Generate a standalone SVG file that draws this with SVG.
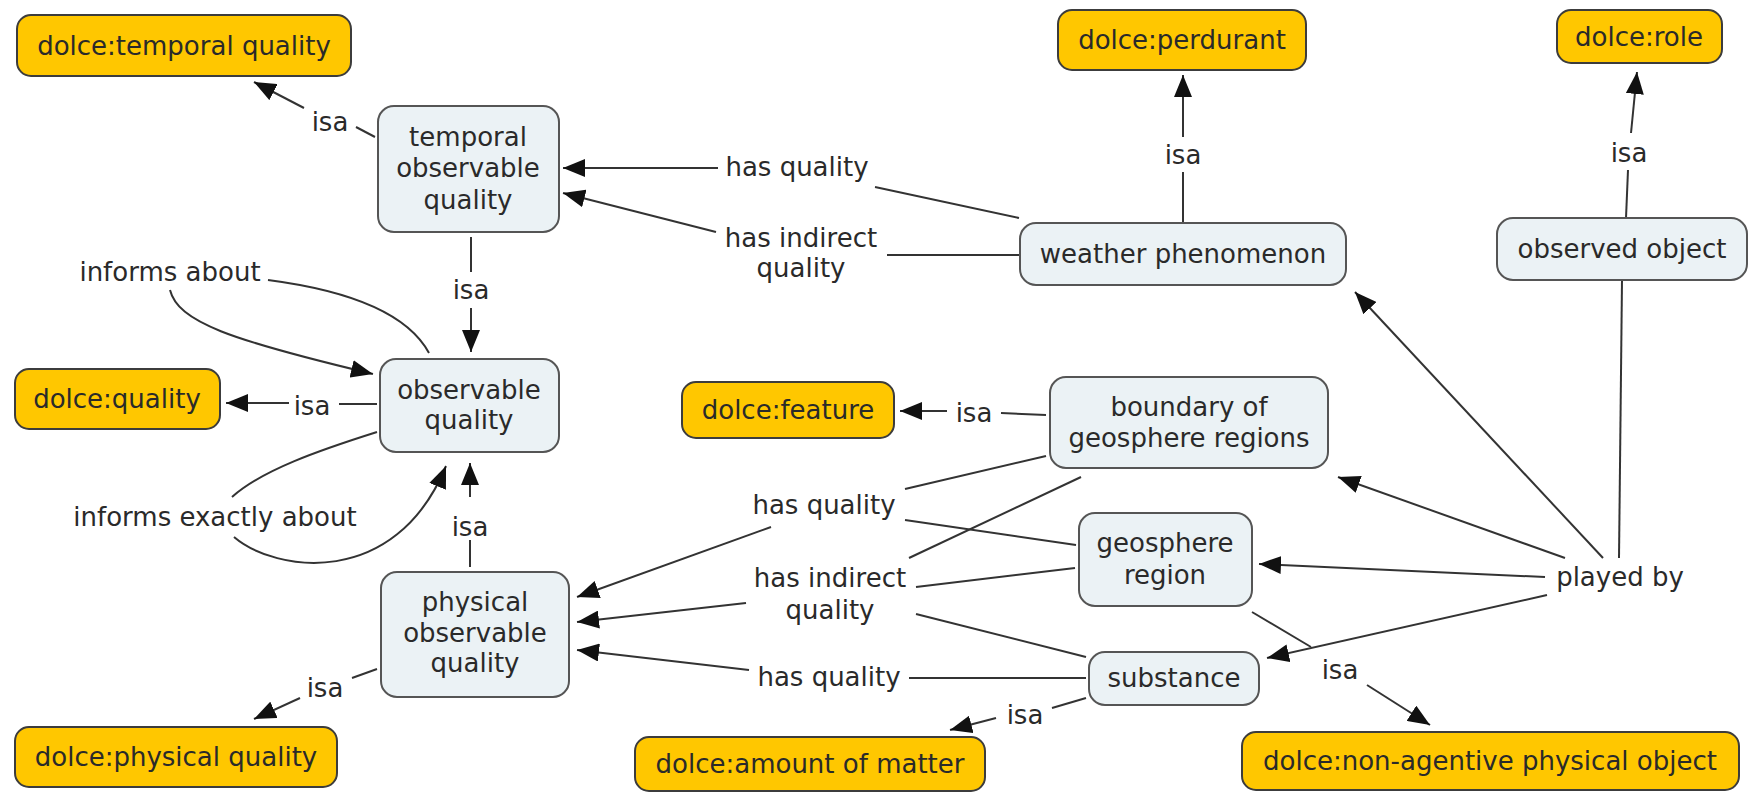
<svg xmlns="http://www.w3.org/2000/svg" width="1752" height="793" viewBox="0 0 1752 793">
<defs>
<style>
text{font-family:"DejaVu Sans",Verdana,sans-serif;font-size:26px;fill:#2a2a2a;text-anchor:middle}
.y{fill:#FFC700;stroke:#3c3c3c;stroke-width:2}
.b{fill:#EBF2F5;stroke:#555;stroke-width:2}
.c{fill:none;stroke:#333;stroke-width:2}
.a{fill:none;stroke:#333;stroke-width:2;marker-end:url(#ah)}
</style>
<marker id="ah" viewBox="0 0 22 18" refX="22" refY="9" markerWidth="22" markerHeight="18" markerUnits="userSpaceOnUse" orient="auto">
<path d="M0,0 L22,9 L0,18 z" fill="#111"/>
</marker>
</defs>
<rect width="1752" height="793" fill="#fff"/>

<g id="connectors">
<path class="c" d="M375 137 L356 127"/>
<path class="a" d="M304 108 L254 82"/>
<path class="c" d="M429 353 C 410 318, 360 292, 268 280"/>
<path class="a" d="M170 290 C 178 322, 230 340, 373 374"/>
<path class="c" d="M471 237 L471 272"/>
<path class="a" d="M471 308 L471 352"/>
<path class="c" d="M1019 218 L875 187"/>
<path class="a" d="M718 168 L563 168"/>
<path class="c" d="M1019 255 L887 255"/>
<path class="a" d="M716 232 L563 193"/>
<path class="c" d="M1183 222 L1183 172"/>
<path class="a" d="M1183 137 L1183 75"/>
<path class="c" d="M1626 218 L1628 170"/>
<path class="a" d="M1631 133 L1637 72"/>
<path class="c" d="M377 404 L339 404"/>
<path class="a" d="M289 403 L226 403"/>
<path class="c" d="M377 432 C 320 450, 262 470, 232 497"/>
<path class="a" d="M234 537 C 275 572, 395 590, 446 466"/>
<path class="c" d="M470 567 L470 540"/>
<path class="a" d="M470 497 L470 463"/>
<path class="c" d="M377 669 L352 678"/>
<path class="a" d="M300 698 L254 719"/>
<path class="c" d="M1046 415 L1001 413"/>
<path class="a" d="M947 411 L900 411"/>
<path class="c" d="M1046 456 L905 489"/>
<path class="c" d="M1076 545 L905 520"/>
<path class="a" d="M771 527 L577 597"/>
<path class="c" d="M1081 477 L909 558"/>
<path class="c" d="M1075 568 L916 587"/>
<path class="c" d="M1086 657 L916 614"/>
<path class="a" d="M746 603 L577 622"/>
<path class="c" d="M1086 678 L909 678"/>
<path class="a" d="M749 670 L577 650"/>
<path class="c" d="M1086 698 L1052 708"/>
<path class="a" d="M996 718 L950 730"/>
<path class="c" d="M1622 280 L1619 558"/>
<path class="a" d="M1603 558 L1355 292"/>
<path class="a" d="M1565 558 L1338 477"/>
<path class="a" d="M1545 577 L1259 564"/>
<path class="a" d="M1547 595 L1267 658"/>
<path class="c" d="M1252 612 L1311 647"/>
<path class="a" d="M1367 685 L1430 725"/>
</g>

<g id="labels">
<text x="330" y="131">isa</text>
<text x="170" y="281">informs about</text>
<text x="471" y="299">isa</text>
<text x="797" y="176">has quality</text>
<text x="801" y="247">has indirect</text>
<text x="801" y="277">quality</text>
<text x="1183" y="164">isa</text>
<text x="1629" y="162">isa</text>
<text x="312" y="415">isa</text>
<text x="215" y="526">informs exactly about</text>
<text x="470" y="536">isa</text>
<text x="325" y="697">isa</text>
<text x="974" y="422">isa</text>
<text x="824" y="514">has quality</text>
<text x="830" y="587">has indirect</text>
<text x="830" y="619">quality</text>
<text x="829" y="686">has quality</text>
<text x="1025" y="724">isa</text>
<text x="1620" y="586">played by</text>
<text x="1340" y="679">isa</text>
</g>

<g id="n-dolce-temporal-quality"><rect class="y" x="17" y="15" width="334" height="61" rx="14"/><text x="184" y="55">dolce:temporal quality</text></g>
<g id="n-dolce-perdurant"><rect class="y" x="1058" y="10" width="248" height="60" rx="14"/><text x="1182" y="49">dolce:perdurant</text></g>
<g id="n-dolce-role"><rect class="y" x="1557" y="10" width="165" height="53" rx="14"/><text x="1639" y="46">dolce:role</text></g>
<g id="n-dolce-quality"><rect class="y" x="15" y="369" width="205" height="60" rx="14"/><text x="117" y="408">dolce:quality</text></g>
<g id="n-dolce-feature"><rect class="y" x="682" y="382" width="212" height="56" rx="14"/><text x="788" y="419">dolce:feature</text></g>
<g id="n-dolce-physical-quality"><rect class="y" x="15" y="727" width="322" height="60" rx="14"/><text x="176" y="766">dolce:physical quality</text></g>
<g id="n-dolce-amount-of-matter"><rect class="y" x="635" y="737" width="350" height="54" rx="14"/><text x="810" y="773">dolce:amount of matter</text></g>
<g id="n-dolce-non-agentive"><rect class="y" x="1242" y="732" width="497" height="58" rx="14"/><text x="1490" y="770">dolce:non-agentive physical object</text></g>

<g id="n-temporal-observable-quality"><rect class="b" x="378" y="106" width="181" height="126" rx="16"/><text x="468" y="146">temporal</text><text x="468" y="177">observable</text><text x="468" y="209">quality</text></g>
<g id="n-observable-quality"><rect class="b" x="380" y="359" width="179" height="93" rx="16"/><text x="469" y="399">observable</text><text x="469" y="429">quality</text></g>
<g id="n-physical-observable-quality"><rect class="b" x="381" y="572" width="188" height="125" rx="16"/><text x="475" y="611">physical</text><text x="475" y="642">observable</text><text x="475" y="672">quality</text></g>
<g id="n-weather-phenomenon"><rect class="b" x="1020" y="223" width="326" height="62" rx="16"/><text x="1183" y="263">weather phenomenon</text></g>
<g id="n-observed-object"><rect class="b" x="1497" y="218" width="250" height="62" rx="16"/><text x="1622" y="258">observed object</text></g>
<g id="n-boundary"><rect class="b" x="1050" y="377" width="278" height="91" rx="16"/><text x="1189" y="416">boundary of</text><text x="1189" y="447">geosphere regions</text></g>
<g id="n-geosphere-region"><rect class="b" x="1079" y="513" width="173" height="93" rx="16"/><text x="1165" y="552">geosphere</text><text x="1165" y="584">region</text></g>
<g id="n-substance"><rect class="b" x="1089" y="652" width="170" height="53" rx="16"/><text x="1174" y="687">substance</text></g>
</svg>
